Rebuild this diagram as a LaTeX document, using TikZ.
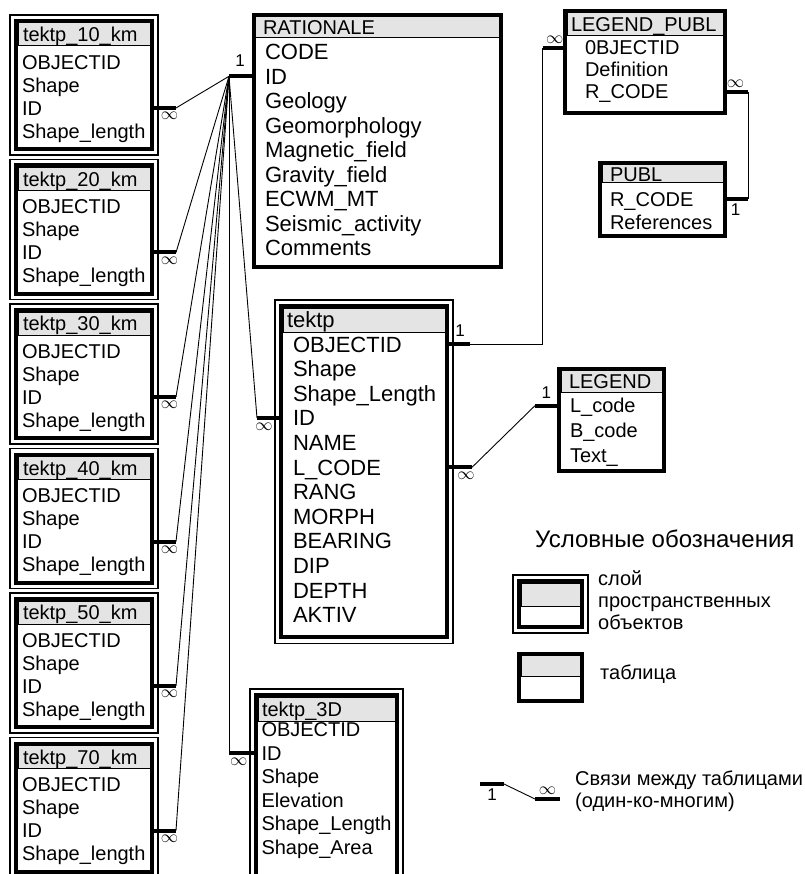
\documentclass[tikz,border=0pt]{standalone}
\usepackage{fontspec}
\setmainfont{Liberation Sans}
\usetikzlibrary{positioning, fit, calc}
\definecolor{grisCab}{HTML}{E4E4E4}

\tikzset{
  tw/.store in=\tabW, hh/.store in=\tabH, rp/.store in=\tabP,
  hi/.store in=\tabHI, ri/.store in=\tabRI,
  padt/.store in=\tabPT, padb/.store in=\tabPB,
  hf/.store in=\tabHF, rf/.store in=\tabRF,
  tw=132, hh=23, rp=23, hi=5, ri=4, padt=4.5, padb=4.5, hf=20, rf=20
}
% tabla: [opciones]{nombre}{esquina}{titulo}{campos}
\newcommand{\dbtable}[5][]{%
  \begin{scope}[#1]
    \pgfmathsetmacro\tabHW{\tabW-2*\tabHI}
    \pgfmathsetmacro\tabRW{\tabW-2*\tabRI}
    \pgfmathsetmacro\tabHh{\tabH/2+0.358*\tabHF}
    \pgfmathsetmacro\tabHd{\tabH/2-0.358*\tabHF}
    \pgfmathsetmacro\tabRh{\tabP/2+0.358*\tabRF}
    \pgfmathsetmacro\tabRd{\tabP/2-0.358*\tabRF}
    \node[hdr] (#2-0) at (#3) {#4};
    \coordinate (#2-p0) at ($(#2-0.south west)+(0,\tabPT)$);
    \foreach \f [count=\i, remember=\i as \j (initially 0)] in {#5} {
      \node[fld] (#2-\i) at (#2-p\j) {\f};
      \coordinate (#2-p\i) at (#2-\i.south west);
      \coordinate (#2-end) at ($(#2-\i.south east)+(0,\tabPB)$);
    }
    \node[tab, fit=(#2-0)(#2-end)] (#2) {};
  \end{scope}}

\begin{document}
\begin{tikzpicture}[x=1pt, y=-1pt,
        hdr/.style={draw, line width=1pt, fill=grisCab, anchor=north west, outer sep=0pt,
            inner ysep=0pt, inner xsep=\tabHI pt, text width=\tabHW pt, align=left,
            text height=\tabHh pt, text depth=\tabHd pt, font=\fontsize{\tabHF}{\tabHF}\selectfont},
        fld/.style={anchor=north west, outer sep=0pt, inner ysep=0pt, inner xsep=\tabRI pt,
            text width=\tabRW pt, align=left, text height=\tabRh pt, text depth=\tabRd pt,
            font=\fontsize{\tabRF}{\tabRF}\selectfont},
        tab/.style={draw, line width=4pt, inner sep=2pt, outer sep=0pt},
        lay/.style={draw, line width=1.2pt, inner sep=6pt, outer sep=0pt},
        stub/.style={line width=4pt},
        rel/.style={line width=0.9pt},
        many/.style={inner sep=2.5pt, font=\fontsize{18}{18}\selectfont},
        one/.style={inner sep=3pt, font=\fontsize{17}{17}\selectfont},
        keytxt/.style={inner sep=0pt, align=left, font=\fontsize{20}{22}\selectfont}
    ]
        \useasboundingbox (0,0) rectangle (804,874);
        \clip (0,0) rectangle (804,874);
        \fill[white] (0,0) rectangle (804,874);

        % capas tektp_*_km
        \foreach \k [count=\n from 0] in {10,20,30,40,50,70}{
            \dbtable{t\k}{18,23+144.5*\n}{tektp\_\k\_km}{OBJECTID,Shape,ID,Shape\_length}
        }

        \dbtable[tw=243.5, hh=21, rp=24.5, hi=7.5, ri=9.5, padt=1.5, padb=5, rf=22]{rat}{255.5,17}{RATIONALE}
            {CODE,ID,Geology,Geomorphology,Magnetic\_field,Gravity\_field,ECWM\_MT,Seismic\_activity,Comments}
        \dbtable[tw=162, hh=24, rp=24.6, hi=4, ri=10, padt=0, padb=8, hf=22, rf=22]{tk}{283,308}{tektp}
            {OBJECTID,Shape,Shape\_Length,ID,NAME,L\_CODE,RANG,MORPH,BEARING,DIP,DEPTH,AKTIV}
        \dbtable[tw=137, hh=24, rp=23.5, hi=4, ri=3.5, padt=-3, padb=20]{t3d}{258,697}{tektp\_3D}
            {OBJECTID,ID,Shape,Elevation,Shape\_Length,Shape\_Area}
        \dbtable[tw=156, hh=23, rp=22, hi=4, ri=18, padt=0.7, padb=8]{lgp}{567,13}{LEGEND\_PUBL}
            {0BJECTID,Definition,R\_CODE}
        \dbtable[tw=121, hh=18, rp=23, hi=8, ri=8, padt=4.5, padb=1]{publ}{602,165}{PUBL}
            {R\_CODE,References}
        \dbtable[tw=101, hh=21.5, rp=24.7, hi=8, ri=9, padt=1.3, padb=1.6]{leg}{561,370.5}{LEGEND}
            {L\_code,B\_code,Text\_}

        \foreach \t in {t10,t20,t30,t40,t50,t70,tk,t3d}
            \node[lay, fit=(\t)] (\t-o) {};

        % relaciones
        \coordinate (hub) at ($(rat-2.west)+(-26.5,0)$);
        \draw[stub] (rat-2.west) -- (hub) node[one, pos=0.58, above=5pt]{1};
        \foreach \t in {t10,t20,t30,t40,t50,t70}{
            \draw[stub] (\t-3.east) -- ++(26,0) coordinate (\t-m) node[many, pos=0.75, below]{$\infty$};
            \draw[rel] (\t-m) -- (hub);
        }
        \draw[stub] (tk-4.west) -- ++(-26,0) coordinate (tk-m) node[many, pos=0.73, below]{$\infty$};
        \draw[rel] (tk-m) -- (hub);
        \draw[stub] (t3d-2.west) -- ++(-29,0) coordinate (t3d-m) node[many, pos=0.66, below]{$\infty$};
        \draw[rel] (t3d-m) -- (hub);

        \draw[stub] (tk-1.east) -- ++(25,0) coordinate (tk-a) node[one, pos=0.6, above=2.5pt]{1};
        \draw[stub] (lgp-1.west) -- ++(-24.5,0) coordinate (lgp-a) node[many, midway, above]{$\infty$};
        \draw[rel] (tk-a) -| (lgp-a);

        \draw[stub] (lgp-3.east) -- ++(25,0) coordinate (lgp-b) node[many, midway, above]{$\infty$};
        \draw[stub] (publ-1.east) -- ++(25,0) coordinate (publ-a) node[one, midway, below]{1};
        \draw[rel] (lgp-b) -- (publ-a);

        \draw[stub] (tk-6.east) -- ++(27,0) coordinate (tk-b) node[many, pos=0.78, below]{$\infty$};
        \draw[stub] (leg-1.west) -- ++(-26,0) coordinate (leg-a) node[one, pos=0.56, above=2.5pt]{1};
        \draw[rel] (tk-b) -- (leg-a);

        % условные обозначения
        \node[anchor=west, inner sep=0pt, font=\fontsize{24}{24}\selectfont] (kttl) at (535,539) {Условные обозначения};
        \dbtable[tw=59, hh=23, rp=19, padt=0, padb=0]{k1}{521,583}{}{~}
        \node[lay, fit=(k1)] (k1-o) {};
        \node[keytxt, right=10pt of k1-o, yshift=4pt] (k1t) {слой\\пространственных\\объектов};
        \dbtable[tw=59, hh=21, rp=22.3, padt=0, padb=0]{k2}{521,655.7}{}{~}
        \node[keytxt, right=18pt of k2, yshift=3pt] (k2t) {таблица};

        \coordinate (r1) at (480,784);
        \coordinate (r2) at (504,784);
        \coordinate (r3) at (535,799);
        \coordinate (r4) at (560,799);
        \draw[stub] (r1) -- (r2) node[one, midway, below]{1};
        \draw[rel] (r2) -- (r3);
        \draw[stub] (r3) -- (r4) node[many, midway, above]{$\infty$};
        \node[keytxt, anchor=west] (k3t) at (575,791) {Связи между таблицами\\(один-ко-многим)};
    \end{tikzpicture}
\end{document}
